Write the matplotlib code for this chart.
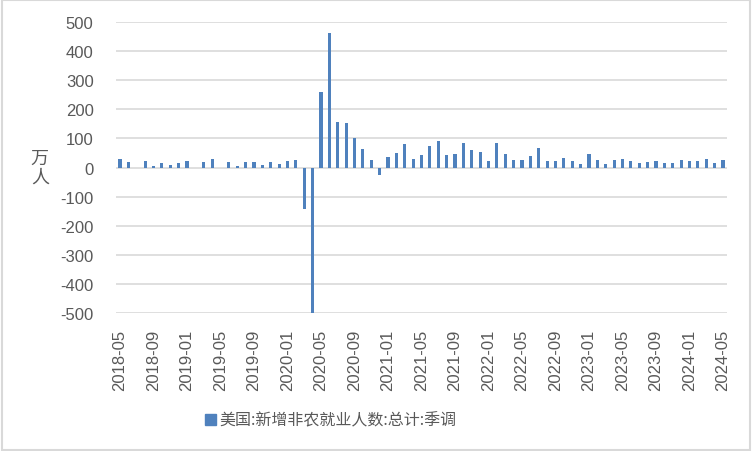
import matplotlib
matplotlib.use('Agg')
import matplotlib.pyplot as plt
from matplotlib.patches import Rectangle, Patch
import numpy as np

# Monthly data, 2018-05 .. 2024-05 (unit: 万人)
months = [f'{y}-{m:02d}' for y in range(2018, 2025) for m in range(1, 13)]
months = months[months.index('2018-05'):months.index('2024-05') + 1]

payrolls = [30, 20, 0, 23, 7, 16, 9, 16, 23, 0, 20, 30,
            0, 20, 6, 20, 20, 9, 20, 13, 23, 26, -143, -2049,
            261, 461, 157, 154, 102, 64, 26, -24, 37, 51, 82, 30,
            44, 75, 92, 44, 47, 85, 61, 54, 23, 85, 47, 26,
            26, 40, 68, 23, 23, 33, 23, 13, 47, 26, 13, 26,
            30, 23, 16, 20, 23, 16, 16, 26, 23, 23, 30, 16,
            26]

series_name = '美国:新增非农就业人数:总计:季调'
unit_label = '万\n人'

bar_color = '#4f81bd'
grid_color = '#d9d9d9'
text_color = '#595959'
cjk = ['Noto Sans CJK SC', 'DejaVu Sans']

plt.rcParams['axes.unicode_minus'] = False

fig = plt.figure(figsize=(7.52, 4.52), dpi=100)
ax = fig.add_axes([0.154, 0.305, 0.813, 0.644])

x = np.arange(len(months))
ax.bar(x, payrolls, width=0.38, color=bar_color, zorder=3)

ax.set_ylim(-500, 500)
ax.set_yticks(np.arange(-500, 501, 100))
ax.set_xlim(-0.5, len(months) - 0.5)
ax.set_xticks(x[::4])
ax.set_xticklabels(months[::4], rotation=90)
ax.grid(axis='y', color=grid_color, linewidth=1.2, zorder=0)
for s in ax.spines.values():
    s.set_visible(False)
ax.tick_params(axis='both', length=0, colors=text_color, labelsize=12)
ax.tick_params(axis='y', pad=16)
ax.tick_params(axis='x', pad=11)
for lbl in ax.get_xticklabels() + ax.get_yticklabels():
    lbl.set_family('Liberation Sans')

fig.text(0.053, 0.628, unit_label, family=cjk, fontsize=13, color=text_color,
         ha='center', va='center', linespacing=1.05)

handle = Patch(color=bar_color)
fig.legend([handle], [series_name], loc='center', bbox_to_anchor=(0.44, 0.068),
           frameon=False, prop={'family': cjk, 'size': 11.5}, labelcolor=text_color,
           handlelength=0.7, handleheight=0.7, handletextpad=0.2)

fig.patches.append(Rectangle((0.002, 0.003), 0.996, 0.994, transform=fig.transFigure,
                             fill=False, edgecolor=grid_color, linewidth=1.5))

fig.savefig('out.png', dpi=100)
